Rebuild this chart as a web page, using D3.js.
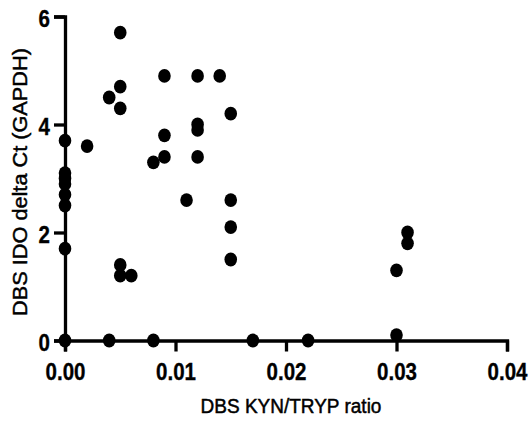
<!DOCTYPE html>
<html>
<head>
<meta charset="utf-8">
<script src="https://cdn.jsdelivr.net/npm/d3@7"></script>
<style>
  html, body { margin: 0; padding: 0; background: #fff; }
  svg { display: block; }
</style>
</head>
<body>
<svg id="chart" width="532" height="421"></svg>
<script>
// ---- data ----
const kynTrypRatio = [
  0, 0, 0, 0, 0, 0, 0, 0,
  0.002,
  0.004, 0.004,
  0.005, 0.005, 0.005, 0.005, 0.005,
  0.006,
  0.008, 0.008,
  0.009, 0.009, 0.009,
  0.011,
  0.012, 0.012, 0.012, 0.012,
  0.014,
  0.015, 0.015, 0.015, 0.015,
  0.017,
  0.022,
  0.030, 0.030,
  0.031, 0.031
];
const idoDeltaCt = [
  3.7, 3.1, 3.0, 2.9, 2.7, 2.5, 1.7, 0,
  3.6,
  4.5, 0,
  5.7, 4.7, 4.3, 1.4, 1.2,
  1.2,
  3.3, 0,
  4.9, 3.8, 3.4,
  2.6,
  4.9, 4.0, 3.9, 3.4,
  4.9,
  4.2, 2.6, 2.1, 1.5,
  0,
  0,
  1.3, 0.1,
  2.0, 1.8
];
const xTicks = [0, 0.01, 0.02, 0.03, 0.04];
const yTicks = [0, 2, 4, 6];
const xTitle = "DBS KYN/TRYP ratio";
const yTitle = "DBS IDO delta Ct (GAPDH)";

// ---- layout ----
const svg = d3.select("#chart");
const FONT = "'Liberation Sans', Arial, Helvetica, sans-serif";
const x = d3.scaleLinear().domain([0, 0.04]).range([65, 507]);
const y = d3.scaleLinear().domain([0, 6]).range([340.5, 16.5]);
const STRETCH = 1.14;
const LW = 3.3;

// x axis
const gx = svg.append("g").attr("transform", `translate(0,${y(0)})`)
  .call(d3.axisBottom(x).tickValues(xTicks).tickFormat(d3.format(".2f")).tickSize(11).tickSizeOuter(11));
gx.select(".domain").attr("stroke", "#000").attr("stroke-width", LW).attr("fill", "none");
gx.selectAll(".tick line").attr("stroke", "#000").attr("stroke-width", LW);
gx.selectAll(".tick text")
  .attr("x", null).attr("y", null).attr("dy", null)
  .attr("transform", `translate(0,39.5) scale(1,${STRETCH})`)
  .attr("fill", "#000")
  .attr("stroke", "#000").attr("stroke-width", 0.3)
  .style("font-family", FONT).style("font-weight", "bold").style("font-size", "20.5px");

// y axis
const gy = svg.append("g").attr("transform", `translate(${x(0)},0)`)
  .call(d3.axisLeft(y).tickValues(yTicks).tickFormat(d3.format("d")).tickSize(11).tickSizeOuter(11));
gy.select(".domain").attr("stroke", "#000").attr("stroke-width", LW).attr("fill", "none");
gy.selectAll(".tick line").attr("stroke", "#000").attr("stroke-width", LW);
gy.selectAll(".tick text")
  .attr("x", null).attr("y", null).attr("dy", null)
  .attr("transform", `translate(-15,10.2) scale(1,${STRETCH})`)
  .attr("text-anchor", "end")
  .attr("fill", "#000")
  .attr("stroke", "#000").attr("stroke-width", 0.3)
  .style("font-family", FONT).style("font-weight", "bold").style("font-size", "20.5px");

// points
svg.append("g").selectAll("ellipse")
  .data(kynTrypRatio.map((v, i) => ({ x: v, y: idoDeltaCt[i] })))
  .join("ellipse")
  .attr("cx", d => x(d.x))
  .attr("cy", d => y(d.y))
  .attr("rx", 6.3)
  .attr("ry", 6.9)
  .attr("fill", "#000");

// titles
svg.append("text")
  .attr("transform", `translate(291,413) scale(1,1.08)`)
  .attr("text-anchor", "middle")
  .attr("fill", "#000")
  .attr("stroke", "#000").attr("stroke-width", 0.45)
  .style("font-family", FONT).style("font-size", "19px")
  .text(xTitle);

svg.append("text")
  .attr("transform", `translate(27,182) rotate(-90) scale(1.12,1)`)
  .attr("text-anchor", "middle")
  .attr("fill", "#000")
  .attr("stroke", "#000").attr("stroke-width", 0.45)
  .style("font-family", FONT).style("font-size", "19.4px")
  .text(yTitle);
</script>
</body>
</html>
